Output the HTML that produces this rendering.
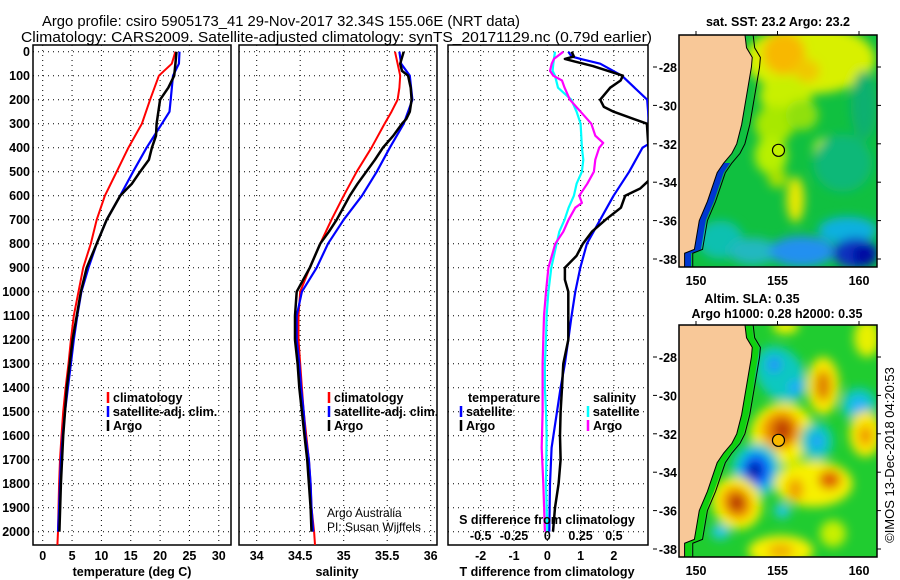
<!DOCTYPE html>
<html><head><meta charset="utf-8"><title>Argo profile</title>
<style>
html,body{margin:0;padding:0;background:#fff;}
svg{display:block;font-family:"Liberation Sans",sans-serif;}
.tk{font-size:12.5px;font-weight:bold;fill:#000;}
.lg{font-size:12.5px;font-weight:bold;fill:#000;}
</style></head>
<body>
<svg id="chart" width="900" height="580" viewBox="0 0 900 580" xmlns="http://www.w3.org/2000/svg">
<defs>
<clipPath id="c1"><rect x="33" y="45" width="198" height="500"/></clipPath>
<clipPath id="c2"><rect x="239" y="45" width="198" height="500"/></clipPath>
<clipPath id="c3"><rect x="448" y="45" width="200" height="500"/></clipPath>
<clipPath id="cm1"><rect x="679" y="35" width="198" height="232"/></clipPath>
<clipPath id="cm2"><rect x="679" y="325" width="198" height="232"/></clipPath>
<filter id="bl" x="-50%" y="-50%" width="200%" height="200%"><feGaussianBlur stdDeviation="5"/></filter>
</defs>
<text x="42" y="26" font-size="14.5" textLength="478" lengthAdjust="spacingAndGlyphs">Argo profile: csiro 5905173_41 29-Nov-2017 32.34S 155.06E (NRT data)</text>
<text x="21" y="42" font-size="14.5" textLength="631" lengthAdjust="spacingAndGlyphs">Climatology: CARS2009. Satellite-adjusted climatology: synTS_20171129.nc (0.79d earlier)</text>
<g id="plots"></g>
<g id="maps"></g>
<text transform="translate(894,455) rotate(-90)" text-anchor="middle" font-size="13">©IMOS 13-Dec-2018 04:20:53</text>
</svg>
<script>
// ---------- data ----------
const tClimDepth=[0,50,100,200,300,400,500,600,700,800,900,1000,1100,1200,1300,1400,1500,1600,1700,1800,1900,2000,2055];
const tClim=[22.6,22.0,19.8,18.3,16.9,14.6,12.6,10.6,9.2,8.2,6.9,6.1,5.3,4.8,4.4,3.9,3.5,3.2,2.95,2.8,2.7,2.6,2.5];
const tSatDepth=[0,50,100,200,250,300,400,500,600,700,800,900,1000,1100,1200,1300,1400,1500,1600,1700,1800,1900,2000];
const tSat=[23.3,23.2,22.2,21.8,21.6,20.3,17.7,15.4,13.2,10.9,9.2,7.8,6.6,5.9,5.3,4.8,4.3,3.8,3.4,3.1,2.95,2.8,2.6];
const tArgoDepth=[0,50,100,150,200,300,350,400,450,500,550,600,700,800,900,1000,1200,1400,1600,1800,2000];
const tArgo=[22.8,22.6,22.4,21.4,20.0,19.4,19.3,18.6,18.1,16.6,15.2,13.2,10.9,9.2,7.5,6.5,5.1,4.1,3.5,3.1,2.85];

const sClimDepth=[0,100,150,200,250,300,400,500,600,700,800,900,1000,1100,1200,1300,1400,1500,1600,1700,1800,1900,2000,2055];
const sClim=[35.59,35.65,35.64,35.62,35.55,35.47,35.32,35.15,35.0,34.86,34.73,34.61,34.50,34.48,34.48,34.50,34.52,34.54,34.57,34.60,34.62,34.63,34.66,34.67];
const sSatDepth=[0,50,100,200,300,400,500,600,700,800,900,1000,1100,1200,1300,1400,1500,1600,1700,1800,1900,2000];
const sSat=[35.64,35.66,35.76,35.79,35.69,35.53,35.38,35.21,35.0,34.82,34.69,34.52,34.46,34.46,34.49,34.51,34.54,34.56,34.60,34.62,34.63,34.65];
const sArgoDepth=[0,50,80,100,150,200,250,280,300,350,400,450,500,550,600,700,750,800,900,1000,1100,1200,1300,1400,1500,1600,1700,1800,1900,2000];
const sArgo=[35.69,35.65,35.67,35.74,35.77,35.78,35.76,35.72,35.67,35.57,35.45,35.36,35.26,35.16,35.07,34.92,34.83,34.73,34.61,34.46,34.44,34.44,34.47,34.49,34.52,34.55,34.58,34.60,34.62,34.63];

const dTSatDepth=[0,20,30,50,100,200,380,400,500,600,700,800,900,1000,1100,1200,1300,1400,1500,1650,1800,2000];
const dTSat=[0.63,0.73,1.0,1.59,2.24,3.0,3.1,2.86,2.46,1.99,1.59,1.19,0.99,0.84,0.73,0.63,0.53,0.40,0.29,0.13,0.08,0.06];
const dTArgoDepth=[0,20,30,40,60,100,120,150,200,230,250,300,530,570,600,650,700,750,800,850,900,950,1000,1100,1200,1300,1400,1500,1600,1700,1800,1900,2000];
const dTArgo=[0.73,0.8,0.53,0.8,1.37,2.27,2.2,1.89,1.59,1.7,1.99,2.99,3.1,2.79,2.34,2.21,1.75,1.34,1.07,0.88,0.53,0.53,0.63,0.63,0.63,0.48,0.44,0.40,0.38,0.40,0.34,0.23,0.17];
const dSSatDepth=[0,50,80,100,150,200,250,300,400,450,500,550,600,650,700,750,800,900,1000,1100,1200,1300,1400,1500,1600,1800,2000];
const dSSat=[0.058,0.045,0.04,0.058,0.08,0.18,0.22,0.25,0.26,0.27,0.26,0.22,0.20,0.16,0.13,0.09,0.07,0.03,0.008,-0.005,-0.01,-0.018,-0.018,-0.01,-0.005,-0.01,0];
const dSArgoDepth=[0,30,50,80,100,120,150,200,250,300,350,380,400,450,500,550,600,630,650,700,750,800,900,1000,1100,1200,1300,1400,1500,1650,1800,2000];
const dSArgo=[0.12,0.05,0.033,0.02,0.045,0.11,0.13,0.17,0.25,0.33,0.36,0.42,0.39,0.36,0.35,0.30,0.24,0.26,0.21,0.16,0.12,0.06,0.008,-0.01,-0.025,-0.03,-0.035,-0.035,-0.035,-0.042,-0.03,-0.018];

const tempTicks=[0,5,10,15,20,25,30];
const salTicks=[34,34.5,35,35.5,36];
const salTickLabels=["34","34.5","35","35.5","36"];
const dTTicks=[-2,-1,0,1,2];
const dSTicks=[-0.5,-0.25,0,0.25,0.5];
const dSTickLabels=["-0.5","-0.25","0","0.25","0.5"];
const depthTicks=[0,100,200,300,400,500,600,700,800,900,1000,1100,1200,1300,1400,1500,1600,1700,1800,1900,2000];

// ---------- scales ----------
const NS="http://www.w3.org/2000/svg";
const yD=d=>51.7+d*0.24;
const xT=t=>42.7+t*5.87;
const xS=s=>256.7+(s-34)*87;
const xDT=t=>547.3+t*33.3;
const xDS=s=>547.3+s*133.2;
const plots=document.getElementById('plots');
const maps=document.getElementById('maps');
function mk(tag,attrs,parent){const e=document.createElementNS(NS,tag);for(const k in attrs)e.setAttribute(k,attrs[k]);(parent||plots).appendChild(e);return e;}

function panel(x0,x1,name,vticks,xf){
  const g=mk('g',{});
  
  
  vticks.forEach(v=>{const l=mk('line',{x1:xf(v),x2:xf(v),y1:45,y2:545,stroke:'#000','stroke-width':1,'stroke-dasharray':'1,4'},g);
    
    });
  depthTicks.forEach(d=>{const l=mk('line',{x1:x0,x2:x1,y1:yD(d),y2:yD(d),stroke:'#000','stroke-width':1,'stroke-dasharray':'1,4'},g);
    
    });
  const r=mk('rect',{x:x0,y:45,width:x1-x0,height:500,fill:'none',stroke:'#000','stroke-width':1.5},g);
  
  
  return g;
}
function series(depths,vals,xf,color,w,clip,name){
  const pts=depths.map((d,i)=>xf(vals[i]).toFixed(1)+','+yD(d).toFixed(1)).join(' ');
  const p=mk('polyline',{points:pts,fill:'none',stroke:color,'stroke-width':w,'clip-path':'url(#'+clip+')','stroke-linejoin':'round'});
  
  
}
function txt(x,y,s,cls,anchor,name){const t=mk('text',{x:x,y:y,class:cls,'text-anchor':anchor||'start'});t.textContent=s;
  
  
  return t;}

// panel 1
panel(33,231,'temperature-panel',tempTicks,xT);
depthTicks.forEach(d=>txt(30,yD(d)+4.5,String(d),'tk','end','depth-tick-label'));
tempTicks.forEach(v=>txt(xT(v),560,String(v),'tk','middle','temperature-tick-label'));
txt(132,576,'temperature (deg C)','tk','middle','temperature-axis-title');
series(tClimDepth,tClim,xT,'#ff0000',2,'c1','temperature-climatology-line');
series(tSatDepth,tSat,xT,'#0000ff',2.2,'c1','temperature-satellite-line');
series(tArgoDepth,tArgo,xT,'#000000',2.5,'c1','temperature-argo-line');
// panel 2
panel(239,437,'salinity-panel',salTicks,xS);
salTicks.forEach((v,i)=>txt(xS(v),560,salTickLabels[i],'tk','middle','salinity-tick-label'));
txt(337,576,'salinity','tk','middle','salinity-axis-title');
series(sClimDepth,sClim,xS,'#ff0000',2,'c2','salinity-climatology-line');
series(sSatDepth,sSat,xS,'#0000ff',2.2,'c2','salinity-satellite-line');
series(sArgoDepth,sArgo,xS,'#000000',2.5,'c2','salinity-argo-line');
// panel 3
panel(448,648,'difference-panel',dTTicks,xDT);
dTTicks.forEach(v=>txt(xDT(v),560,String(v),'tk','middle','t-diff-tick-label'));
txt(547,576,'T difference from climatology','tk','middle','t-diff-axis-title');
series(dSSatDepth,dSSat,xDS,'#00ffff',2.2,'c3','s-diff-satellite-line');
series(dSArgoDepth,dSArgo,xDS,'#ff00ff',2.2,'c3','s-diff-argo-line');
series(dTSatDepth,dTSat,xDT,'#0000ff',2.2,'c3','t-diff-satellite-line');
series(dTArgoDepth,dTArgo,xDT,'#000000',2.5,'c3','t-diff-argo-line');
txt(547,524,'S difference from climatology','tk','middle','s-diff-axis-title');
dSTicks.forEach((v,i)=>txt(xDS(v),540,dSTickLabels[i],'tk','middle','s-diff-tick-label'));

// legends
function legItem(x,y,color,label,name){
  const l=mk('line',{x1:x,x2:x,y1:y-10,y2:y+1,stroke:color,'stroke-width':2.5});
  
  
  if(label)txt(x+5,y,label,'lg','start',name);
}
legItem(108,402,'#ff0000','climatology','legend-climatology');
legItem(108,416,'#0000ff','satellite-adj. clim.','legend-satellite-adj');
legItem(108,430,'#000000','Argo','legend-argo');
legItem(329,402,'#ff0000','climatology','legend-climatology-2');
legItem(329,416,'#0000ff','satellite-adj. clim.','legend-satellite-adj-2');
legItem(329,430,'#000000','Argo','legend-argo-2');
txt(468,402,'temperature','lg','start','legend-temperature-heading');
legItem(461,416,'#0000ff','satellite','legend-t-satellite');
legItem(461,430,'#000000','Argo','legend-t-argo');
txt(593,402,'salinity','lg','start','legend-salinity-heading');
legItem(588,416,'#00ffff','satellite','legend-s-satellite');
legItem(588,430,'#ff00ff','Argo','legend-s-argo');
const a1=txt(327,517,'Argo Australia','','start','credit-argo-australia');a1.setAttribute('font-size','12');
const a2=txt(327,531,'PI: Susan Wijffels','','start','credit-pi');a2.setAttribute('font-size','12');

// ---------- maps ----------
const lonX=l=>696+(l-150)*16.3;
const latY=(top,l)=>top+(-28-l)*19.2;
const coastLat=[-26.3,-27,-27.5,-28,-29,-30,-31,-32,-32.5,-33,-33.5,-34,-35,-36,-37,-37.5,-37.7,-38.5];
const coastLon=[153.0,153.1,153.45,153.4,153.2,153.0,152.8,152.5,152.2,151.7,151.3,151.1,150.7,150.2,150.0,149.9,149.3,149.3];
const lonTicks=[150,155,160];
const latTicks=[-28,-30,-32,-34,-36,-38];

function drawMap(top,clip,name,blobs,base,stripColor,stripFromLat,argoFill){
  const g=mk('g',{'clip-path':'url(#'+clip+')'},maps);
  
  
  mk('rect',{x:679,y:top-32,width:198,height:232,fill:base},g);
  const bg=mk('g',{filter:'url(#bl)'},g);
  blobs.forEach(b=>{const e=mk('ellipse',{cx:lonX(b[0]),cy:latY(top,b[1]),rx:b[2]*16.3,ry:b[3]*19.2,fill:b[4],transform:'rotate('+(b[5]||0)+' '+lonX(b[0])+' '+latY(top,b[1])+')'},bg);
    
    });
  const shelf=coastLat.map((la,i)=>lonX(coastLon[i]+0.5)+','+latY(top,la)).join(' ');
  const land=coastLat.map((la,i)=>lonX(coastLon[i])+','+latY(top,la)).join(' ');
  const idx=coastLat.map((la,i)=>i).filter(i=>coastLat[i]<=stripFromLat);
  const sp=idx.map(i=>lonX(coastLon[i])+','+latY(top,coastLat[i])).join(' ')+' '+idx.slice().reverse().map(i=>lonX(coastLon[i]+0.4)+','+latY(top,coastLat[i])).join(' ');
  const strip=mk('polygon',{points:sp,fill:stripColor},g);
  
  
  const lp=mk('polygon',{points:'670,'+(top-40)+' '+land+' 670,'+(top+240),fill:'#f8c898'},g);
  
  
  const iso=mk('polyline',{points:shelf,fill:'none',stroke:'#000','stroke-width':1},g);
  
  
  const c=mk('polyline',{points:land,fill:'none',stroke:'#000','stroke-width':1},g);
  
  
  const ap=mk('circle',{cx:lonX(155.06),cy:latY(top,-32.34),r:6,fill:argoFill,stroke:'#000','stroke-width':1.2},g);
  
  
  const fr=mk('rect',{x:679,y:top-32,width:198,height:232,fill:'none',stroke:'#000','stroke-width':1.5},maps);
  
  
  lonTicks.forEach(l=>{
    const t=mk('line',{x1:lonX(l),x2:lonX(l),y1:top-36,y2:top-32,stroke:'#000'},maps);
    
    
    const s=mk('text',{x:lonX(l),y:top+218,'text-anchor':'middle',class:'tk','font-size':'13'},maps);s.textContent=String(l);
    
    
  });
  latTicks.forEach(l=>{
    const t=mk('line',{x1:877,x2:881,y1:latY(top,l),y2:latY(top,l),stroke:'#000'},maps);
    
    
    const t2=mk('line',{x1:653,x2:657,y1:latY(top,l),y2:latY(top,l),stroke:'#000'},maps);
    
    
    const s=mk('text',{x:677,y:latY(top,l)+5,'text-anchor':'end',class:'tk','font-size':'13'},maps);s.textContent=String(l);
    
    
  });
}
// [lon, lat, rxDeg, ryDeg, color, rotation]
const sstBlobs=[
 [157,-27.6,4,1.8,'#d8f000'],[155.4,-27.3,1.3,1.1,'#f8b800'],[156.8,-28.2,0.8,0.6,'#f0c800'],
 [155.5,-29.5,1.6,1.0,'#c8f000'],[154.8,-31,1.2,1.0,'#a8e800'],[154.6,-32.6,1.0,1.0,'#b8f000'],
 [156.5,-30.5,1.0,0.8,'#90e010'],[157.8,-32.3,0.6,0.6,'#c0f000'],
 [156.1,-34.9,0.55,1.2,'#e8e800'],[155.0,-33.8,0.6,0.5,'#a8e000'],
 [159.0,-33.0,1.8,1.5,'#10b878'],[160.3,-30,0.8,1.8,'#10b070'],
 [151.5,-37,1.4,1.0,'#10c0b0'],[153.5,-37.6,1.5,0.7,'#20b8c0'],
 [156.5,-37.6,2.0,0.8,'#2090f0'],[159.3,-36.5,1.8,0.7,'#10b0e0'],
 [159.8,-37.7,1.4,0.8,'#0830c0'],[160.3,-37.8,0.7,0.5,'#0000a0']
];
const slaBlobs=[
 [155.3,-32.0,2.0,1.6,'#f8f000',-30],[155.2,-31.8,1.2,1.0,'#f09000',-30],[155.3,-31.8,0.6,0.6,'#c04000'],
 [155.2,-28.9,1.4,1.6,'#10c8c0',-35],[154.8,-28.4,0.4,0.4,'#2090ff'],[156.1,-29.6,0.4,0.4,'#20a8ff'],
 [157.8,-29.5,1.0,1.5,'#f8e800'],[157.8,-29.5,0.5,0.8,'#e08000'],
 [160.0,-30.5,1.1,0.9,'#10c8c0'],[160.0,-30.5,0.5,0.4,'#20b0ff'],
 [157.4,-32.4,1.0,1.0,'#10c8c0'],[157.4,-32.4,0.4,0.4,'#20a0ff'],
 [160.4,-32.0,1.0,1.2,'#f8e800'],[160.4,-32.1,0.4,0.5,'#f09000'],
 [153.7,-33.9,1.5,1.4,'#10c8d0'],[153.7,-33.9,0.9,0.9,'#1060ff'],[153.6,-33.9,0.45,0.45,'#0010a0'],
 [157.2,-34.6,2.4,1.2,'#f8f000'],[156.1,-34.9,0.5,0.6,'#f0a000'],[158.2,-34.4,0.7,0.5,'#e06000'],
 [152.5,-35.6,1.5,1.4,'#f8f000',-30],[152.5,-35.6,0.9,0.9,'#f09000',-30],[152.5,-35.6,0.45,0.45,'#b02000'],
 [155.3,-36.0,0.5,0.4,'#20c8e0'],[151.5,-37.1,0.6,0.4,'#20c8e0'],
 [155.2,-38.1,2.0,0.8,'#f8f000'],[155.2,-38.1,0.8,0.4,'#f0b000'],
 [160.5,-27,0.8,1.0,'#e8f000'],[155.5,-26.4,0.8,0.4,'#f0f000'],[158.4,-37.2,0.8,0.7,'#c8f000']
];
drawMap(67,'cm1','sst-map',sstBlobs,'#10c040','#0038d0',-32.8,'#c0f000');
drawMap(357,'cm2','sla-map',slaBlobs,'#20cc30','#10d010',-26,'#f8b800');
const mt1=mk('text',{x:778,y:26,'text-anchor':'middle',class:'tk','font-size':'13'},maps);mt1.textContent='sat. SST: 23.2 Argo: 23.2';


const mt2=mk('text',{x:752,y:303,'text-anchor':'middle',class:'tk','font-size':'13'},maps);mt2.textContent='Altim. SLA: 0.35';


const mt3=mk('text',{x:777,y:318,'text-anchor':'middle',class:'tk','font-size':'13'},maps);mt3.textContent='Argo h1000: 0.28 h2000: 0.35';


</script>
</body></html>
